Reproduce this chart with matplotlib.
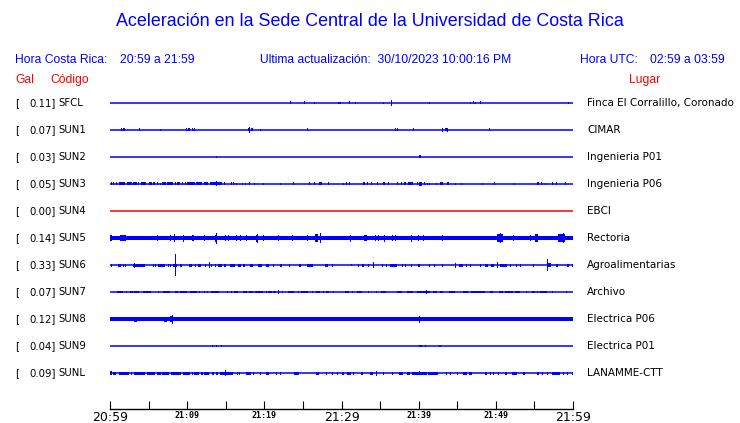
import matplotlib.pyplot as plt

W, H = 740, 423

codes = ["SFCL", "SUN1", "SUN2", "SUN3", "SUN4", "SUN5", "SUN6", "SUN7", "SUN8", "SUN9", "SUNL"]
gal = [0.11, 0.07, 0.03, 0.05, 0.00, 0.14, 0.33, 0.07, 0.12, 0.04, 0.09]
places = ["Finca El Corralillo, Coronado", "CIMAR", "Ingenieria P01", "Ingenieria P06", "EBCI",
          "Rectoria", "Agroalimentarias", "Archivo", "Electrica P06", "Electrica P01", "LANAMME-CTT"]
trace_colors = ["blue"] * 4 + ["red"] + ["blue"] * 6
# background noise half-height (in original pixels)
noise = [0, 0, 0, 0, 0, 2.4, 0, 0, 1.7, 0, 0]

tick_minutes = list(range(0, 61, 5))
tick_labels = ["20:59", "", "21:09", "", "21:19", "", "21:29", "", "21:39", "", "21:49", "", "21:59"]

# events: (start minute after 20:59, duration in minutes, half-height in original pixels)
sfcl_events = [(23.37, 0, 1.5), (25.19, 0, 1.5), (26.48, 0, 0.7), (29.6, 0.3, 1.3), (31.02, 0, 1.5),
               (31.80, 0, 0.7), (35.43, 0, 0.7), (36.46, 0, 3.4), (41.39, 0, 0.7), (46.70, 0, 0.7),
               (47.09, 0, 1.5), (47.35, 0, 0.7), (48.0, 0, 1.5), (59.4, 0, 0.7)]
sun1_events = [(1.47, 0, 1.5), (1.73, 0.2, 1.5), (3.80, 0, 1.5), (6.52, 0, 0.7), (9.89, 0, 1.5),
               (10.11, 0.25, 1.5), (10.67, 0, 1.5), (10.93, 0, 1.5), (17.84, 0, 1.5), (17.97, 0, 3.0),
               (18.30, 0.2, 1.5), (19.48, 0, 0.7), (25.57, 0, 1.5), (36.94, 0, 1.5), (37.24, 0, 1.5),
               (39.31, 0, 1.5), (43.07, 0, 1.7), (43.37, 0.35, 1.5), (43.72, 0, 2.3), (49.16, 0, 1.5)]
sun2_events = [(13.78, 0, 0.8), (40.1, 0.2, 1.5)]
sun3_events = [(0.13, 0, 1.5), (0.35, 0, 1.5), (0.78, 0, 1.5), (1.17, 0.78, 1.5), (2.16, 0.65, 1.5),
               (3.02, 0.52, 1.5), (3.63, 0.17, 1.5), (4.06, 0.56, 1.5), (5.10, 0.3, 1.5), (5.62, 0.22, 1.5),
               (6.13, 0, 1.5), (6.48, 0, 0.7), (6.70, 0.52, 1.5), (7.43, 0.69, 1.5), (8.42, 0, 1.5),
               (8.73, 0.35, 1.5), (9.37, 0, 1.5), (9.72, 0, 1.5), (10.02, 1.0, 1.5), (11.15, 0.73, 1.5),
               (12.18, 0.56, 1.5), (12.96, 1.51, 1.5), (13.78, 0, 2.5), (14.77, 0, 1.5), (15.64, 0, 1.5),
               (15.98, 0, 1.5), (16.37, 0, 0.7), (17.06, 0, 0.7), (17.54, 0, 0.7), (17.97, 0, 1.5),
               (18.71, 0, 0.7), (19.87, 0, 0.7), (22.08, 0, 0.7), (23.76, 0, 1.5), (25.83, 0, 1.5),
               (26.48, 0, 1.5), (27.09, 0.35, 1.5), (28.30, 0, 1.5), (30.16, 0, 0.7), (30.59, 0, 1.5),
               (31.02, 0, 1.5), (32.83, 0.22, 1.5), (33.27, 0.22, 1.5), (33.78, 0, 1.5), (34.65, 0, 1.5),
               (35.43, 0.26, 1.5), (35.99, 0, 1.5), (37.15, 0, 1.5), (37.67, 0, 1.5), (38.15, 0.17, 1.5),
               (38.67, 0.56, 1.5), (39.75, 0, 1.5), (40.05, 0.43, 2.3), (40.74, 0, 1.5), (41.13, 0, 0.7),
               (41.39, 0, 0.7), (42.25, 0, 0.7), (42.77, 0.35, 1.5), (43.63, 0.35, 1.5), (44.71, 0, 0.7),
               (45.49, 0, 0.7), (48.26, 0, 0.7), (49.81, 0, 1.5), (52.40, 0, 0.7), (55.30, 0.26, 1.5),
               (55.86, 0, 1.5), (56.33, 0, 0.7), (57.33, 0, 1.5), (57.76, 0, 1.5), (58.93, 0, 1.5)]
sun4_events = []
sun5_events = [(0.0, 0.3, 3.0), (1.30, 0.78, 3.0), (6.13, 0, 3.0), (7.78, 0, 3.0), (8.29, 0, 4.0),
               (9.50, 0, 3.5), (10.58, 0.35, 3.0), (12.18, 0, 3.0), (13.60, 0.2, 3.5), (13.70, 0, 5.5),
               (14.90, 0, 3.0), (15.34, 0, 3.0), (16.29, 0, 3.0), (16.85, 0, 3.0), (17.58, 0, 3.0),
               (18.9, 0.3, 3.5), (19.0, 0, 4.5), (19.87, 0, 3.0), (21.82, 0, 3.0), (23.54, 0, 3.0),
               (25.49, 0, 3.0), (26.57, 0.43, 4.0), (27.22, 0, 5.0), (31.1, 0, 3.5), (32.92, 0.43, 3.2),
               (34.35, 0, 3.0), (34.78, 0, 3.0), (35.56, 0, 3.5), (36.5, 0, 3.0), (36.94, 0, 3.0),
               (38.97, 0, 3.5), (39.88, 0, 3.0), (40.52, 0, 3.0), (42.99, 0, 3.2), (50.2, 0.78, 4.0),
               (50.5, 0, 5.0), (52.27, 0, 3.0), (54.43, 0, 3.0), (55.08, 0.43, 3.8), (58.1, 0.86, 4.0),
               (58.67, 0, 5.0)]
sun6_events = [(0.13, 0, 1.5), (1.08, 0.3, 1.5), (1.64, 0, 1.5), (1.94, 0, 1.5), (2.94, 1.6, 1.5),
               (3.15, 0, 2.5), (5.53, 0, 1.5), (5.83, 0, 1.5), (6.26, 0.86, 1.5), (7.56, 0, 1.5),
               (7.78, 0, 1.5), (8.2, 0.52, 1.5), (8.38, 0, 4.0), (8.47, 0, 11.0), (9.07, 0.22, 1.5),
               (10.28, 0.3, 1.5), (11.02, 0, 1.5), (11.45, 0.3, 1.5), (12.31, 0, 1.5), (12.87, 0, 3.0),
               (13.09, 0, 1.5), (13.61, 0, 1.5), (14.04, 0.43, 1.5), (14.77, 0.22, 1.5), (15.55, 0.65, 1.5),
               (16.63, 0.35, 1.5), (17.28, 0.26, 1.5), (18.14, 0.35, 1.5), (19.22, 0.43, 1.5),
               (20.17, 0.43, 1.5), (21.17, 0, 1.5), (22.03, 0.3, 1.5), (23.24, 0, 1.5), (24.5, 0.22, 1.5),
               (25.57, 0.78, 1.5), (27.86, 0.43, 1.5), (28.82, 0, 1.5), (31.24, 0, 0.7), (32.19, 0, 1.5),
               (32.62, 0.3, 1.5), (33.48, 0, 1.5), (34.13, 0, 3.0), (35.3, 0, 1.5), (35.73, 0, 1.5),
               (36.29, 0.86, 1.5), (37.89, 0, 1.5), (38.23, 0, 1.5), (39.01, 0, 1.5), (39.88, 0.3, 1.5),
               (41.39, 0, 1.5), (41.99, 0, 1.5), (42.99, 0, 1.5), (44.71, 0, 2.5), (45.28, 0.43, 1.5),
               (46.1, 0, 1.5), (46.66, 0, 1.5), (47.95, 0, 1.5), (48.6, 0.43, 1.5), (49.34, 0.43, 1.5),
               (50.11, 0, 3.0), (50.55, 0.86, 1.5), (51.84, 0, 1.5), (52.58, 0, 1.5), (53.14, 0, 1.5),
               (54.78, 0, 1.5), (56.59, 0, 6.0), (56.81, 0.3, 2.0), (57.8, 0.3, 1.5), (59.19, 0.3, 1.5),
               (59.9, 0, 1.5)]
sun7_events = [(0.95, 0.69, 1.4), (2.03, 0, 1.4), (2.59, 0.43, 1.4), (3.15, 0.65, 1.4), (4.32, 1.0, 1.4),
               (6.26, 0, 1.4), (6.83, 0.95, 1.4), (8.42, 0.43, 1.4), (9.07, 0.95, 1.4), (10.37, 0.86, 1.4),
               (11.58, 0, 1.4), (12.18, 0, 1.4), (12.53, 0, 1.4), (13.05, 1.1, 1.4), (15.21, 0, 1.4),
               (15.68, 0, 1.4), (16.11, 0.52, 1.4), (17.19, 0.52, 1.4), (18.01, 0.47, 1.4), (18.79, 1.08, 1.4),
               (20.17, 0.22, 1.4), (20.52, 0.43, 1.4), (21.17, 0.35, 1.4), (21.82, 0, 2.0), (22.25, 0, 1.4),
               (23.11, 0.73, 1.4), (24.32, 0, 1.4), (24.75, 0.95, 1.4), (26.14, 0, 1.4), (26.7, 0.52, 1.4),
               (27.65, 0, 1.4), (27.95, 0.47, 1.4), (28.94, 0, 1.4), (30.46, 0.56, 1.4), (31.32, 0, 1.4),
               (31.97, 0.65, 1.4), (33.48, 0, 1.4), (34.48, 0, 1.4), (35.08, 0.69, 1.4), (37.15, 0.65, 1.4),
               (38.45, 0.78, 1.4), (39.83, 1.64, 1.4), (41.0, 0, 2.0), (41.82, 0.52, 1.4), (42.77, 0.43, 1.4),
               (43.98, 0.73, 1.4), (45.71, 0.73, 1.4), (46.79, 1.8, 1.4), (49.25, 0.35, 1.4), (50.46, 0.43, 1.4),
               (51.19, 1.08, 1.4), (52.49, 0.65, 1.4), (53.92, 0, 1.4), (54.65, 0.43, 1.4), (55.3, 0, 1.4),
               (55.73, 0.86, 1.4), (57.33, 0, 1.4), (59.1, 0, 1.4)]
sun8_events = [(3.15, 0.3, 2.5), (6.26, 0, 2.0), (7.0, 0.35, 2.5), (7.78, 0.35, 3.0), (8.0, 0, 4.5),
               (11.1, 0, 2.0), (13.26, 0, 2.0), (14.39, 0, 2.0), (15.9, 0, 2.0), (17.41, 0, 2.0),
               (40.09, 0, 3.5), (40.91, 0, 2.0), (42.68, 0, 2.0)]
sun9_events = [(13.26, 0, 1.3), (13.74, 0, 0.7), (14.39, 0, 1.3), (40.09, 0.3, 1.3), (40.87, 0, 0.7),
               (42.68, 0.17, 1.3)]
sunl_events = [(0.0, 0.26, 2.0), (0.43, 0.35, 1.5), (1.21, 1.3, 1.5), (2.72, 0, 1.5), (3.15, 1.38, 1.5),
               (4.75, 1.08, 1.5), (6.13, 0.43, 1.5), (6.78, 0.86, 1.5), (7.9, 1.3, 1.5), (9.5, 0.86, 1.5),
               (10.58, 0.22, 1.5), (10.93, 0.65, 1.5), (11.75, 0.26, 1.5), (12.23, 0.6, 1.5), (13.26, 0.26, 1.5),
               (13.74, 0.3, 1.5), (14.26, 1.73, 1.5), (14.9, 0, 3.0), (16.5, 0, 1.5), (16.76, 0, 1.5),
               (17.58, 0.65, 1.5), (18.58, 0, 1.5), (19.44, 0, 1.5), (20.17, 0.43, 1.5), (21.51, 0, 1.5),
               (22.03, 0, 1.5), (23.89, 0.6, 1.5), (26.7, 0.39, 1.5), (27.95, 0, 1.5), (28.73, 0, 1.5),
               (29.46, 0, 1.5), (30.02, 0, 1.5), (30.16, 0, 1.5), (30.76, 0.43, 1.5), (31.54, 0, 1.5),
               (32.53, 0.3, 1.5), (33.7, 0.35, 1.5), (34.48, 0, 2.5), (35.43, 0, 1.5), (36.5, 0, 1.5),
               (37.5, 0.52, 1.5), (38.45, 0.43, 1.5), (39.1, 1.95, 1.5), (40.1, 0, 2.0), (41.26, 1.3, 1.5),
               (43.55, 0, 1.5), (44.07, 0, 1.5), (44.93, 0, 1.5), (45.71, 0.52, 1.5), (46.53, 0.35, 1.5),
               (48.6, 0.22, 1.5), (49.25, 0, 1.5), (49.68, 0, 1.5), (50.33, 0, 1.5), (51.19, 0.3, 1.5),
               (52.05, 0.65, 1.5), (53.57, 0.22, 1.5), (55.3, 0.3, 1.5), (55.95, 0, 1.5), (56.68, 0, 1.5),
               (57.33, 1.0, 1.5), (58.75, 0, 1.5), (59.19, 0, 1.5), (59.92, 0, 1.5)]

all_events = [sfcl_events, sun1_events, sun2_events, sun3_events, sun4_events, sun5_events,
              sun6_events, sun7_events, sun8_events, sun9_events, sunl_events]

BLUE = "#0000ff"
RED = "#ff0000"
ROW_PX = 27.0   # original pixels between traces
PX = 60.0 / 463  # one pixel in minutes


def fx(x):
    return x / W


def fy(y):
    return 1 - y / H


fig = plt.figure(figsize=(W / 100, H / 100), dpi=100)
ax = fig.add_axes([fx(110), fy(409), 463 / W, (409 - 90) / H])
ax.set_xlim(0, 60)
ax.set_ylim(11.33, -0.48)

for i, events in enumerate(all_events):
    col = BLUE if trace_colors[i] == "blue" else RED
    ax.plot([0, 60], [i, i], color=col, lw=1.1, solid_capstyle="butt")
    if noise[i] > 0:
        ax.fill_between([0, 60], i - noise[i] / ROW_PX, i + noise[i] / ROW_PX, color=col, lw=0)
    for start, dur, amp in events:
        ax.bar(start, 2 * amp / ROW_PX, width=max(dur, PX), bottom=i - amp / ROW_PX,
               align="edge", color=col, linewidth=0)

for s in ["top", "left", "right"]:
    ax.spines[s].set_visible(False)
ax.spines["bottom"].set_linewidth(1.0)
ax.set_yticks([])
ax.set_xticks(tick_minutes)
ax.set_xticklabels(tick_labels)
ax.tick_params(axis="x", direction="in", length=6, width=0.8, pad=1.5)
for k, lab in enumerate(ax.get_xticklabels()):
    if tick_minutes[k] % 30 == 0:
        lab.set_fontsize(9)
        lab.set_family("DejaVu Sans")
    else:
        lab.set_fontsize(6)
        lab.set_family("DejaVu Sans Mono")
        lab.set_fontweight("bold")

sans = "Liberation Sans"
fig.text(0.5, fy(22), "Aceleración en la Sede Central de la Universidad de Costa Rica",
         ha="center", va="center", color=BLUE, fontsize=12.9, family=sans)
hs = 8.7
fig.text(fx(15), fy(60), "Hora Costa Rica:", ha="left", va="center", color=BLUE, fontsize=hs, family=sans)
fig.text(fx(120), fy(60), "20:59 a 21:59", ha="left", va="center", color=BLUE, fontsize=hs, family=sans)
fig.text(fx(260), fy(60), "Ultima actualización:  30/10/2023 10:00:16 PM", ha="left", va="center",
         color=BLUE, fontsize=hs, family=sans)
fig.text(fx(580), fy(60), "Hora UTC:", ha="left", va="center", color=BLUE, fontsize=hs, family=sans)
fig.text(fx(650), fy(60), "02:59 a 03:59", ha="left", va="center", color=BLUE, fontsize=hs, family=sans)
fig.text(fx(15), fy(80), "Gal", ha="left", va="center", color=RED, fontsize=hs, family=sans)
fig.text(fx(50), fy(80), "Código", ha="left", va="center", color=RED, fontsize=hs, family=sans)
fig.text(fx(645), fy(80), "Lugar", ha="center", va="center", color=RED, fontsize=hs, family=sans)

for i in range(len(codes)):
    y = 103 + ROW_PX * i
    fig.text(fx(15), fy(y), "[", ha="left", va="center", fontsize=7.3, family="DejaVu Sans")
    fig.text(fx(55.5), fy(y), f"{gal[i]:.2f}]", ha="right", va="center", fontsize=7.3, family="DejaVu Sans")
    fig.text(fx(58.5), fy(y), codes[i], ha="left", va="center", fontsize=7.3, family="DejaVu Sans")
    fig.text(fx(587), fy(y), places[i], ha="left", va="center", fontsize=7.5, family="DejaVu Sans")

fig.savefig("out.png", dpi=100)
